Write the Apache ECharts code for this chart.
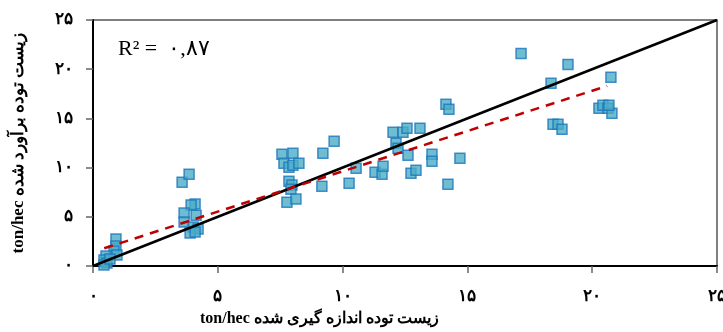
<!DOCTYPE html>
<html>
<head>
<meta charset="utf-8">
<script src="https://cdn.jsdelivr.net/npm/echarts@6/dist/echarts.min.js"></script>
<style>
  html, body {margin: 0; padding: 0; background: #fff;}
  #main {width: 723px; height: 332px;}
</style>
</head>
<body>
<div id="main"></div>
<script>
  const measured = [
    0.92, 0.92, 0.84, 0.96, 0.52, 0.44, 0.56, 0.44, 0.68,
    3.57, 3.85, 4.09, 3.93, 3.65, 4.13, 3.65, 4.01, 4.21, 3.89, 4.09,
    7.57, 8.01, 7.65, 7.85, 8.01, 8.25, 9.21, 9.66, 7.85, 7.97, 7.93, 7.77, 8.13, 9.17,
    10.26, 10.54, 11.30, 11.58, 11.62, 12.02, 12.42, 12.58, 12.14, 12.22, 12.62, 12.74,
    12.94, 13.10, 13.58, 13.58, 14.22, 14.70, 14.14, 14.26,
    17.15, 18.35, 19.03, 20.75, 18.43, 18.63, 18.79, 20.27, 20.43, 20.63, 20.79, 20.67
  ];
  const estimated = [
    2.74, 2.03, 1.52, 1.12, 1.01, 0.61, 0.30, 0.10, 0.70,
    8.52, 9.33, 6.29, 6.19, 5.38, 5.17, 4.46, 3.96, 3.75, 3.35, 3.45,
    11.36, 11.46, 10.45, 10.04, 10.24, 10.45, 11.46, 12.68, 8.62, 8.22, 7.81, 6.49, 6.80, 8.11,
    8.42, 9.94, 9.53, 9.33, 10.14, 13.59, 13.59, 14.0, 12.47, 11.97, 11.26, 9.43,
    9.74, 14.0, 11.36, 10.65, 8.32, 10.95, 16.43, 15.92,
    21.6, 18.56, 20.49, 19.17, 14.4, 14.4, 13.89, 16.02, 16.33, 16.02, 15.52, 16.33
  ];
  const oneToOne = [[0, 0], [25, 25]];
  const trendLine = [[0.45, 1.8], [20.6, 18.3]];
  const ticks = [0, 5, 10, 15, 20, 25];
  const r2Text = 'R² =  ۰,۸۷';
  const xName = 'ton/hec زیست توده اندازه گیری شده';
  const yName = 'ton/hec زیست توده برآورد شده';

  const fa = n => String(n).replace(/[0-9]/g, d => '۰۱۲۳۴۵۶۷۸۹'[d]);
  const points = measured.map((x, i) => [x, estimated[i]]);
  const serif = '"Liberation Serif", "Times New Roman", "DejaVu Serif", serif';

  const axisBase = {
    type: 'value',
    min: ticks[0],
    max: ticks[ticks.length - 1],
    interval: 5,
    splitLine: {show: false},
    axisLine: {show: true, onZero: false, lineStyle: {color: '#000', width: 2}},
    axisTick: {show: true, length: 7, lineStyle: {color: '#666', width: 1.5}},
    axisLabel: {
      color: '#000',
      fontFamily: serif,
      fontWeight: 'bold',
      fontSize: 17,
      formatter: v => fa(v)
    }
  };

  const chart = echarts.init(document.getElementById('main'));
  chart.setOption({
    animation: false,
    grid: {
      left: 93, right: 6, top: 20, bottom: 66,
      containLabel: false, outerBoundsMode: 'none',
      show: true, borderColor: '#555', borderWidth: 1.5
    },
    xAxis: Object.assign({}, axisBase, {
      axisLabel: Object.assign({}, axisBase.axisLabel, {margin: 22})
    }),
    yAxis: Object.assign({}, axisBase, {
      name: yName,
      nameLocation: 'middle',
      nameGap: 66,
      nameTextStyle: {color: '#000', fontFamily: serif, fontWeight: 'bold', fontSize: 17},
      axisLabel: Object.assign({}, axisBase.axisLabel, {margin: 20})
    }),
    graphic: [
      {
        type: 'text', left: 200, top: 311,
        style: {text: xName, fill: '#000', font: 'bold 16px ' + serif}
      },
      {
        type: 'text', left: 118, top: 38,
        style: {text: r2Text, fill: '#000', font: '22px ' + serif}
      }
    ],
    series: [
      {
        type: 'line',
        data: oneToOne,
        symbol: 'none',
        lineStyle: {color: '#000', width: 2.5},
        z: 3
      },
      {
        type: 'scatter',
        data: points,
        symbol: 'rect',
        symbolSize: 10,
        itemStyle: {color: '#4BACC6', borderColor: '#1B75BC', borderWidth: 1.5},
        z: 2
      },
      {
        type: 'line',
        data: trendLine,
        symbol: 'none',
        lineStyle: {color: '#C00000', width: 2.5, type: [9, 7]},
        z: 4
      }
    ]
  });
</script>
</body>
</html>
